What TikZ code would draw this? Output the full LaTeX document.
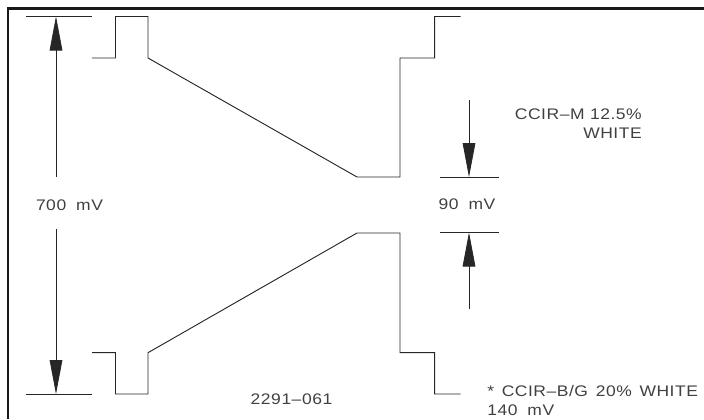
\documentclass[tikz,border=0pt]{standalone}
\usepackage{fontspec}
\setmainfont{Liberation Sans}
\newfontfamily\plotfont[FakeStretch=1.14, LetterSpace=3.5]{Liberation Sans}
\usepackage{tikz}
\usetikzlibrary{arrows.meta, calc}
\tikzset{
  trace/.style={line width=0.7pt, black!85},
  dimline/.style={line width=0.6pt, black!85},
  dimarrow/.style={dimline, -{Triangle[length=25.5pt, width=9.5pt]}},
  label/.style={inner sep=0pt, font=\plotfont\fontsize{11.5}{13}\selectfont, black!75},
}
\begin{document}
\begin{tikzpicture}[x=0.75pt, y=-0.75pt, line cap=butt]
	\useasboundingbox (0,0) rectangle (704,419);

	\def\hiy{16.5}
	\def\sety{58}
	\def\loy{394}
	\def\bly{352.7}
	\def\midhi{177}
	\def\midlo{233}

	\coordinate (NW) at (8, 8.5);
	\coordinate (NE) at (704, 8.5);
	\coordinate (SW) at (8, 419);

	\draw[line width=2.2pt, black!90] (NE) -- (NW) -- (SW);

	% upper trace
	\draw[trace] (92,\sety) -- (115.5,\sety) -- (115.5,\hiy) -- (148,\hiy) -- (148,\sety)
		-- (357,\midhi) -- (400,\midhi) -- (400,\sety) -- (434.7,\sety) -- (434.7,\hiy) -- (460.7,\hiy);
	% lower trace
	\draw[trace] (92,\bly) -- (115.5,\bly) -- (115.5,\loy) -- (148,\loy) -- (148,\bly)
		-- (357,\midlo) -- (400,\midlo) -- (400,\bly) -- (434.7,\bly) -- (434.7,\loy) -- (460.7,\loy);

	% 700 mV
	\coordinate (A) at (56, \hiy);
	\coordinate (B) at (56, \loy);
	\draw[dimline] (26,\hiy) -- (92,\hiy);
	\draw[dimline] (26,\loy) -- (92,\loy);
	\node[label] (span) at (69.5, 205) {700\hspace{0.3em} mV};
	\draw[dimarrow] (56,177) -- (A);
	\draw[dimarrow] (56,229) -- (B);

	% 90 mV
	\coordinate (C) at (469, \midhi);
	\coordinate (D) at (469, 232.5);
	\draw[dimline] (440,\midhi) -- (499,\midhi);
	\draw[dimline] (440,232.5) -- (499,232.5);
	\node[label] (gap) at (467, 204) {90\hspace{0.3em} mV};
	\draw[dimarrow] (469,100) -- (C);
	\draw[dimarrow] (469,309) -- (D);

	\node[label, anchor=east] (ccirm) at (642, 114) {CCIR–M 12.5\%};
	\node[label, anchor=east] (white) at (642, 133) {WHITE};
	\node[label] (fig) at (291.5, 399) {2291–061};
	\node[label, anchor=west] (ccirb) at (487, 391) {*\hspace{0.15em} CCIR–B/G\hspace{0.15em} 20\%\hspace{0.15em} WHITE};
	\node[label, anchor=west] (mv) at (487, 410) {140\hspace{0.3em} mV};
\end{tikzpicture}
\end{document}
